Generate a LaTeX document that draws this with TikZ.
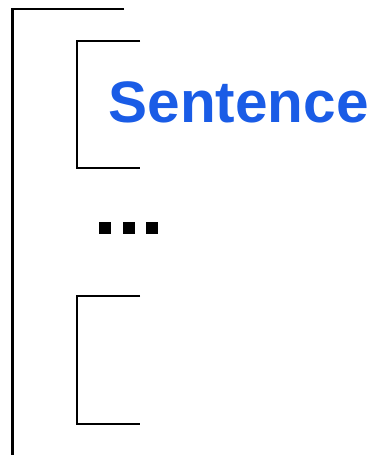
\documentclass[tikz,border=0pt]{standalone}
\usepackage{fontspec}
\newfontfamily\headfont{Liberation Sans}
\definecolor{sentblue}{RGB}{26,92,230}
\begin{document}
\begin{tikzpicture}[x=1pt,y=-1pt,
  bracketline/.style={line width=2.2pt,line cap=butt,line join=miter},
  dotsq/.style={fill=black,draw=none,minimum size=12pt,inner sep=0pt,outer sep=0pt},
  label/.style={font=\headfont\bfseries\fontsize{58.5}{60}\selectfont,text=sentblue,inner sep=0pt,anchor=base west}]
\useasboundingbox (0,0) rectangle (373,455);
% outer bracket
\draw[bracketline] (124,9) -- (12.5,9) -- (12.5,456);
% inner bracket 1
\draw[bracketline] (140,41) -- (77,41) -- (77,168) -- (140,168);
% inner bracket 2
\draw[bracketline] (140,296) -- (77,296) -- (77,424) -- (140,424);
% text
\node[label] (sent) at (108.5,122.5) {Sentence};
% dots
\node[dotsq] (d1) at (104.5,228) {};
\node[dotsq] (d2) at (128.5,228) {};
\node[dotsq] (d3) at (151.5,228) {};
\end{tikzpicture}
\end{document}
